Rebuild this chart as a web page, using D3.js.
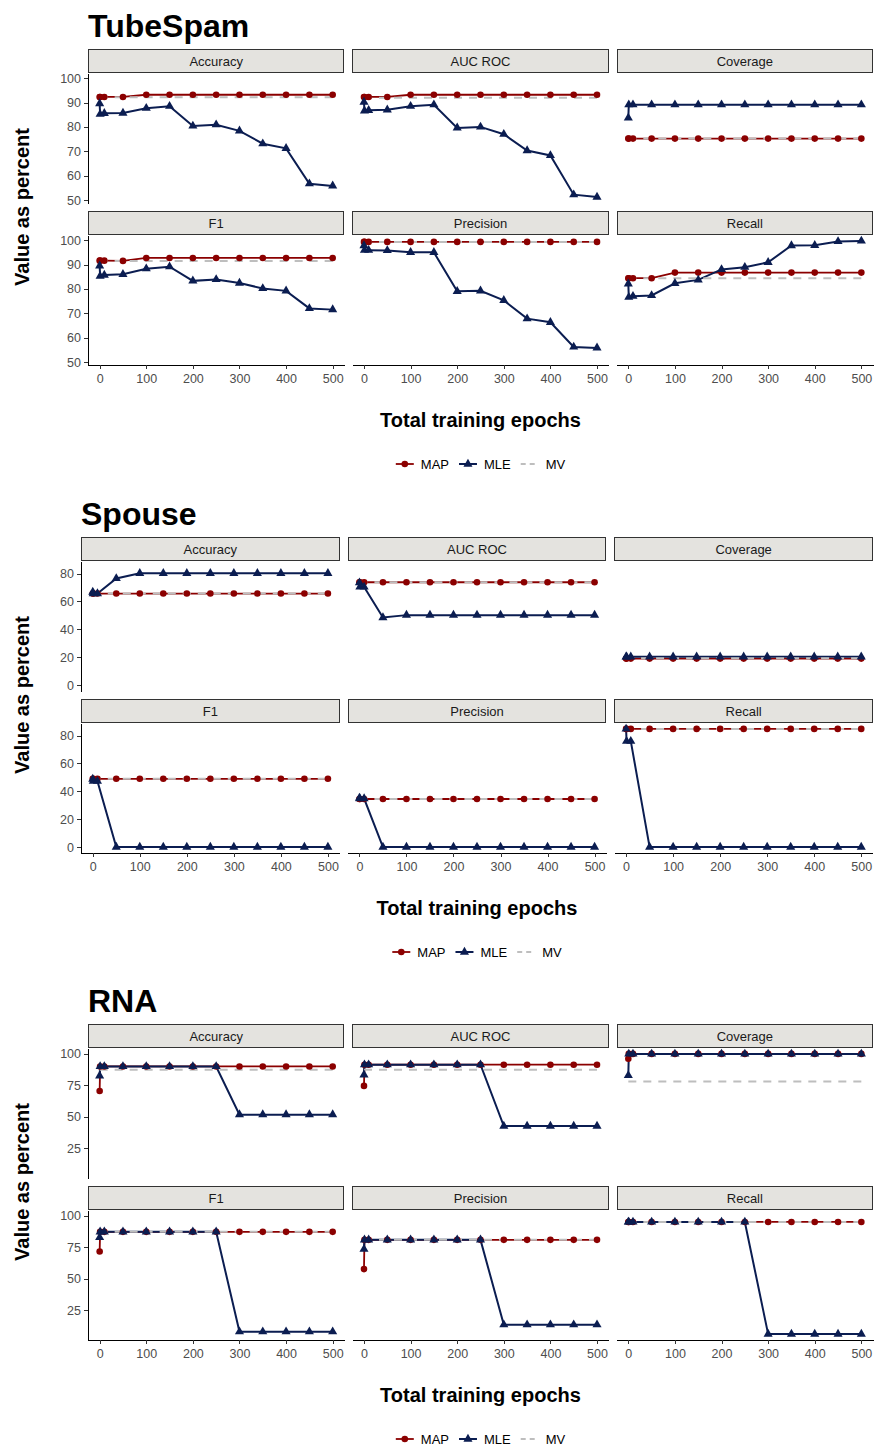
<!DOCTYPE html>
<html lang="en">
<head>
<meta charset="UTF-8">
<title>Label model metrics by training epochs</title>
<style>
  body { margin: 0; background: #fff; }
  svg text { font-family: "Liberation Sans", Arial, Helvetica, sans-serif; }
  .axis path, .axis line { stroke: #000; stroke-width: 1px; shape-rendering: crispEdges; }
  .axis .tick line { stroke: #333; }
  .axis text { fill: #4d4d4d; font-size: 12.5px; }
  .strip rect { fill: #e4e3df; stroke: #333; stroke-width: 1px; shape-rendering: crispEdges; }
  .strip text { fill: #1a1a1a; font-size: 13px; }
  .title { font-size: 32px; font-weight: bold; fill: #000; }
  .axisTitle { font-size: 20px; font-weight: bold; fill: #000; }
  .legend text { font-size: 13px; fill: #000; }
</style>
</head>
<body>
<div id="chart"></div>
<script src="https://d3js.org/d3.v7.min.js"></script>
<script>
// epochs on the x axis
var epochs = [0, 1, 10, 50, 100, 150, 200, 250, 300, 350, 400, 450, 500];
var metrics = ["Accuracy", "AUC ROC", "Coverage", "F1", "Precision", "Recall"];
var methods = ["MAP", "MLE", "MV"];
var xTicks = [0, 100, 200, 300, 400, 500];

// TubeSpam, one row per metric (same order as metrics)
var tubespamMAP = [
  [92.3, 92.3, 92.3, 92.3, 93.2, 93.2, 93.2, 93.2, 93.2, 93.2, 93.2, 93.2, 93.2],
  [92.3, 92.3, 92.3, 92.3, 93.2, 93.2, 93.2, 93.2, 93.2, 93.2, 93.2, 93.2, 93.2],
  [75.2, 75.2, 75.2, 75.2, 75.2, 75.2, 75.2, 75.2, 75.2, 75.2, 75.2, 75.2, 75.2],
  [91.6, 91.6, 91.6, 91.5, 92.7, 92.7, 92.7, 92.7, 92.7, 92.7, 92.7, 92.7, 92.7],
  [99.3, 99.3, 99.3, 99.3, 99.3, 99.3, 99.3, 99.3, 99.3, 99.3, 99.3, 99.3, 99.3],
  [84.4, 84.4, 84.4, 84.4, 86.7, 86.7, 86.7, 86.7, 86.7, 86.7, 86.7, 86.7, 86.7]
];
var tubespamMLE = [
  [89.6, 85.2, 85.6, 85.7, 87.7, 88.5, 80.4, 80.9, 78.4, 73.1, 71.2, 56.7, 55.8],
  [90.2, 86.6, 86.8, 87.0, 88.5, 89.1, 79.6, 80.0, 77.0, 70.3, 68.3, 52.2, 51.2],
  [83.7, 89.1, 89.1, 89.1, 89.1, 89.1, 89.1, 89.1, 89.1, 89.1, 89.1, 89.1, 89.1],
  [89.5, 85.3, 85.7, 86.0, 88.3, 89.1, 83.3, 83.9, 82.4, 80.2, 79.2, 72.0, 71.5],
  [97.8, 95.9, 95.9, 95.8, 95.0, 95.0, 79.0, 79.2, 75.3, 67.8, 66.3, 56.2, 55.8],
  [82.1, 76.6, 77.0, 77.3, 82.3, 83.7, 88.0, 88.9, 90.9, 97.8, 97.9, 99.5, 99.7]
];
var tubespamMV = [92.2, 92.0, 75.2, 91.5, 99.3, 84.4];

// Spouse
var spouseMAP = [
  [65.7, 65.7, 65.7, 65.7, 65.7, 65.7, 65.7, 65.7, 65.7, 65.7, 65.7, 65.7, 65.7],
  [73.8, 73.8, 73.8, 73.8, 73.8, 73.8, 73.8, 73.8, 73.8, 73.8, 73.8, 73.8, 73.8],
  [19.0, 19.0, 19.0, 19.0, 19.0, 19.0, 19.0, 19.0, 19.0, 19.0, 19.0, 19.0, 19.0],
  [49.0, 49.0, 49.0, 49.0, 49.0, 49.0, 49.0, 49.0, 49.0, 49.0, 49.0, 49.0, 49.0],
  [34.5, 34.5, 34.5, 34.5, 34.5, 34.5, 34.5, 34.5, 34.5, 34.5, 34.5, 34.5, 34.5],
  [84.8, 84.8, 84.8, 84.8, 84.8, 84.8, 84.8, 84.8, 84.8, 84.8, 84.8, 84.8, 84.8]
];
var spouseMLE = [
  [66.8, 65.7, 65.7, 76.5, 80.2, 80.2, 80.2, 80.2, 80.2, 80.2, 80.2, 80.2, 80.2],
  [73.5, 70.4, 70.4, 48.5, 50.2, 50.2, 50.2, 50.2, 50.2, 50.2, 50.2, 50.2, 50.2],
  [20.3, 20.3, 20.3, 20.3, 20.3, 20.3, 20.3, 20.3, 20.3, 20.3, 20.3, 20.3, 20.3],
  [48.8, 47.3, 47.3, 0, 0, 0, 0, 0, 0, 0, 0, 0, 0],
  [35.2, 34.8, 34.8, 0, 0, 0, 0, 0, 0, 0, 0, 0, 0],
  [84.8, 76.0, 76.0, 0, 0, 0, 0, 0, 0, 0, 0, 0, 0]
];
var spouseMV = [65.7, 73.8, 19.2, 49.0, 34.5, 84.8];

// RNA
var rnaMAP = [
  [70.4, 90.0, 90.0, 90.0, 90.0, 90.0, 90.0, 90.0, 90.0, 90.0, 90.0, 90.0, 90.0],
  [74.5, 91.4, 91.4, 91.4, 91.4, 91.4, 91.4, 91.4, 91.4, 91.4, 91.4, 91.4, 91.4],
  [96.2, 100, 100, 100, 100, 100, 100, 100, 100, 100, 100, 100, 100],
  [71.6, 87.3, 87.3, 87.3, 87.3, 87.3, 87.3, 87.3, 87.3, 87.3, 87.3, 87.3, 87.3],
  [57.6, 80.9, 80.9, 80.9, 80.9, 80.9, 80.9, 80.9, 80.9, 80.9, 80.9, 80.9, 80.9],
  [95.2, 95.2, 95.2, 95.2, 95.2, 95.2, 95.2, 95.2, 95.2, 95.2, 95.2, 95.2, 95.2]
];
var rnaMLE = [
  [82.5, 90.0, 90.0, 90.0, 90.0, 90.0, 90.0, 90.0, 51.6, 51.6, 51.6, 51.6, 51.6],
  [83.3, 91.4, 91.4, 91.4, 91.4, 91.4, 91.4, 91.4, 42.5, 42.5, 42.5, 42.5, 42.5],
  [82.8, 100, 100, 100, 100, 100, 100, 100, 100, 100, 100, 100, 100],
  [82.8, 87.3, 87.3, 87.3, 87.3, 87.3, 87.3, 87.3, 7.7, 7.7, 7.7, 7.7, 7.7],
  [73.5, 80.9, 80.9, 80.9, 80.9, 80.9, 80.9, 80.9, 13.3, 13.3, 13.3, 13.3, 13.3],
  [95.2, 95.2, 95.2, 95.2, 95.2, 95.2, 95.2, 95.2, 5.8, 5.8, 5.8, 5.8, 5.8]
];
var rnaMV = [87.4, 87.4, 78.0, 87.3, 80.9, 95.2];

var colors = { MAP: "#8b0000", MLE: "#0b1d51", MV: "#bebebe" };

//Section layout table
var sections = [
  { name: "TubeSpam", map: tubespamMAP, mle: tubespamMLE, mv: tubespamMV, yTicks: [50, 60, 70, 80, 90, 100], top: 0, left: 88 },
  { name: "Spouse", map: spouseMAP, mle: spouseMLE, mv: spouseMV, yTicks: [0, 20, 40, 60, 80], top: 488, left: 81 },
  { name: "RNA", map: rnaMAP, mle: rnaMLE, mv: rnaMV, yTicks: [25, 50, 75, 100], top: 975, left: 88 }
];

var W = 875, H = 1448, right = 873, gap = 8, panelH = 130, stripH = 24;

var svg = d3.select("#chart").append("svg")
    .attr("width", W)
    .attr("height", H);

sections.forEach(function(s) {
  var T = s.top + 37;
  var pw = (right - s.left - 2 * gap) / 3;
  var all = [].concat.apply([], s.map).concat([].concat.apply([], s.mle)).concat(s.mv);
  var lo = d3.min(all), hi = d3.max(all), pad = (hi - lo) * 0.05;
  var y = d3.scaleLinear().domain([lo - pad, hi + pad]).range([panelH, 0]);
  var x = d3.scaleLinear().domain([-25, 525]).range([0, pw]);
  var line = d3.line().x(function(d) { return x(d[0]); }).y(function(d) { return y(d[1]); });

  var g = svg.append("g");

  //Section title
  g.append("text")
      .attr("class", "title")
      .attr("x", s.left)
      .attr("y", T)
      .text(s.name);

  metrics.forEach(function(m, i) {
    var row = Math.floor(i / 3), col = i % 3;
    var px = s.left + col * (pw + gap);
    var stripTop = T + 12 + row * (panelH + stripH + gap);
    var py = stripTop + stripH;

    //strip
    var strip = g.append("g").attr("class", "strip");
    strip.append("rect")
        .attr("x", px + 0.5).attr("y", stripTop + 0.5)
        .attr("width", pw - 1).attr("height", stripH - 1);
    strip.append("text")
        .attr("x", px + pw / 2).attr("y", stripTop + stripH / 2)
        .attr("dy", "0.35em")
        .style("text-anchor", "middle")
        .text(m);

    var p = g.append("g").attr("transform", "translate(" + px + "," + py + ")");

    //axes
    if (col === 0) {
      p.append("g").attr("class", "axis")
          .call(d3.axisLeft(y).tickValues(s.yTicks).tickSize(4).tickSizeOuter(0).tickPadding(3));
    }
    if (row === 1) {
      p.append("g").attr("class", "axis")
          .attr("transform", "translate(0," + panelH + ")")
          .call(d3.axisBottom(x).tickValues(xTicks).tickSize(4).tickSizeOuter(0).tickPadding(5));
    }

    var mapPts = epochs.map(function(e, k) { return [e, s.map[i][k]]; });
    var mlePts = epochs.map(function(e, k) { return [e, s.mle[i][k]]; });
    var mvPts = [[epochs[0], s.mv[i]], [epochs[epochs.length - 1], s.mv[i]]];

    p.append("path").attr("d", line(mapPts))
        .attr("fill", "none").attr("stroke", colors.MAP).attr("stroke-width", 1.8);
    p.append("path").attr("d", line(mlePts))
        .attr("fill", "none").attr("stroke", colors.MLE).attr("stroke-width", 2);
    p.append("path").attr("d", line(mvPts))
        .attr("fill", "none").attr("stroke", colors.MV).attr("stroke-width", 2)
        .attr("stroke-dasharray", "8,7");

    p.selectAll("circle")
        .data(mapPts).enter()
        .append("circle")
        .attr("cx", function(d) { return x(d[0]); })
        .attr("cy", function(d) { return y(d[1]); })
        .attr("r", 3.3)
        .attr("fill", colors.MAP);
    p.selectAll(".tri")
        .data(mlePts).enter()
        .append("path")
        .attr("class", "tri")
        .attr("transform", function(d) { return "translate(" + x(d[0]) + "," + y(d[1]) + ")"; })
        .attr("d", d3.symbol().type(d3.symbolTriangle).size(36))
        .attr("fill", colors.MLE);
  });

  var cx = s.left + (right - s.left) / 2;

  // y axis title
  g.append("text")
      .attr("class", "axisTitle")
      .attr("transform", "translate(29," + (T + 12 + (2 * (panelH + stripH) + gap) / 2) + ") rotate(-90)")
      .style("text-anchor", "middle")
      .text("Value as percent");

  // x axis title
  g.append("text")
      .attr("class", "axisTitle")
      .attr("x", cx)
      .attr("y", T + 390)
      .style("text-anchor", "middle")
      .text("Total training epochs");

  // legend
  var leg = g.append("g").attr("class", "legend");
  var ly = T + 427, keyW = 18, off = 0;
  var items = methods.map(function(name) {
    var it = leg.append("g");
    if (name === "MV") {
      it.append("line").attr("x1", 0).attr("x2", keyW).attr("y1", 0).attr("y2", 0)
          .attr("stroke", colors.MV).attr("stroke-width", 2).attr("stroke-dasharray", "5,4");
    } else {
      it.append("line").attr("x1", 0).attr("x2", keyW).attr("y1", 0).attr("y2", 0)
          .attr("stroke", colors[name]).attr("stroke-width", name === "MAP" ? 1.8 : 2);
      if (name === "MAP") {
        it.append("circle").attr("cx", keyW / 2).attr("cy", 0).attr("r", 3.3).attr("fill", colors.MAP);
      } else {
        it.append("path").attr("transform", "translate(" + keyW / 2 + ",0)")
            .attr("d", d3.symbol().type(d3.symbolTriangle).size(36)).attr("fill", colors.MLE);
      }
    }
    var t = it.append("text").attr("x", keyW + 7).attr("dy", "0.35em").text(name);
    var w = keyW + 7 + t.node().getComputedTextLength();
    it.attr("transform", "translate(" + off + "," + ly + ")");
    off += w + 10;
    return it;
  });
  var total = off - 10;
  leg.attr("transform", "translate(" + (cx - total / 2) + ",0)");
});
</script>
</body>
</html>
